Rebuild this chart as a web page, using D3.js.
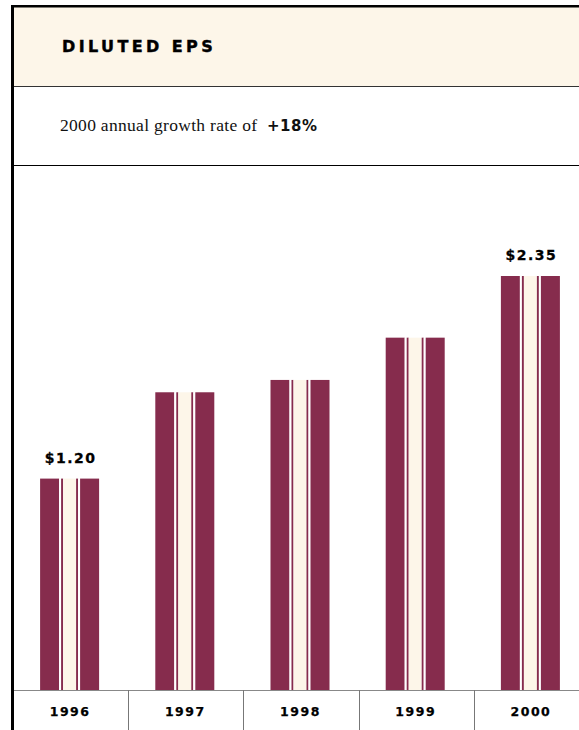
<!DOCTYPE html>
<html>
<head>
<meta charset="utf-8">
<script src="https://cdn.jsdelivr.net/npm/d3@7"></script>
<style>
  body { margin: 0; background: #fff; }
  svg { display: block; }
</style>
</head>
<body>
<div id="chart"></div>
<script>
// DATA ////////////////////////////////////////////////////////////
var years = ["1996", "1997", "1998", "1999", "2000"];
var eps = [1.20, 1.69, 1.76, 2.00, 2.35];
var labelled = ["1996", "2000"];
var growthText = "2000 annual growth rate of";
var growthValue = "+18%";

// PAGE SETUP //////////////////////////////////////////////////////
var width = 579, height = 730;
var frameLeft = 14, frameTop = 7;
var baseY = 690;
var maroon = "#862c4d", cream = "#fdf6e9";

var svg = d3.select("#chart").append("svg")
  .attr("width", width).attr("height", height);

// header band
svg.append("rect").attr("x", frameLeft).attr("y", frameTop)
  .attr("width", width - frameLeft).attr("height", 79).attr("fill", cream);
svg.append("line").attr("x1", frameLeft).attr("x2", width).attr("y1", 86.5).attr("y2", 86.5)
  .attr("stroke", "#333").attr("stroke-width", 1);
svg.append("line").attr("x1", frameLeft).attr("x2", width).attr("y1", 165.5).attr("y2", 165.5)
  .attr("stroke", "#000").attr("stroke-width", 1);

// frame
svg.append("rect").attr("x", 11).attr("y", 5).attr("width", width - 11).attr("height", 2.5).attr("fill", "#000");
svg.append("rect").attr("x", 11).attr("y", 5).attr("width", 3).attr("height", height - 5).attr("fill", "#000");

svg.append("text").attr("x", 62).attr("y", 52)
  .attr("font-family", "'DejaVu Sans', sans-serif").attr("font-weight", "bold")
  .attr("font-size", 16).attr("letter-spacing", 3.4).attr("fill", "#000")
  .attr("stroke", "#000").attr("stroke-width", 0.4)
  .text("DILUTED EPS");

var sub = svg.append("text").attr("x", 60).attr("y", 131)
  .attr("font-family", "'Liberation Serif', serif").attr("font-size", 17.5)
  .attr("letter-spacing", 0.3).attr("fill", "#111");
sub.append("tspan").text(growthText + " ");
sub.append("tspan").attr("dx", 5).attr("font-family", "'DejaVu Sans', sans-serif")
  .attr("font-weight", "bold").attr("font-size", 15).attr("letter-spacing", 0.5).text(growthValue);

// SCALES //////////////////////////////////////////////////////////
var x = d3.scaleBand().domain(years).range([13, 589]);
var y = d3.scaleLinear().domain([0, 2.35]).range([baseY, 276]);
var barW = 59;

// BARS ////////////////////////////////////////////////////////////
var bars = svg.append("g").selectAll("g").data(years)
  .enter().append("g")
  .attr("transform", function(d){ return "translate(" + (x(d) + x.bandwidth() / 2 - barW / 2 - 1) + ",0)"; });

// stripe layout across the bar: [offset, width, colour]
var stripes = [[0, 19, maroon], [19, 2, "#fff"], [21, 2, maroon], [23, 13, cream],
               [36, 2, maroon], [38, 2, "#fff"], [40, 19, maroon]];

bars.each(function(d, i){
  var g = d3.select(this);
  g.selectAll("rect").data(stripes).enter().append("rect")
    .attr("x", function(s){ return s[0]; })
    .attr("width", function(s){ return s[1]; })
    .attr("y", y(eps[i]))
    .attr("height", baseY - y(eps[i]))
    .attr("fill", function(s){ return s[2]; });
  if (labelled.indexOf(d) >= 0) {
    g.append("text").attr("x", barW / 2 + 1).attr("y", y(eps[i]) - 16)
      .attr("text-anchor", "middle")
      .attr("font-family", "'DejaVu Sans', sans-serif").attr("font-weight", "bold")
      .attr("font-size", 14).attr("letter-spacing", 1.5).attr("fill", "#000")
      .attr("stroke", "#000").attr("stroke-width", 0.3)
      .text("$" + eps[i].toFixed(2));
  }
});

// AXIS ////////////////////////////////////////////////////////////
svg.append("line").attr("x1", frameLeft).attr("x2", width).attr("y1", baseY + 0.5).attr("y2", baseY + 0.5)
  .attr("stroke", "#888");

svg.append("g").selectAll("line").data(years.slice(1))
  .enter().append("line")
  .attr("x1", function(d){ return Math.round(x(d)) + 0.5; }).attr("x2", function(d){ return Math.round(x(d)) + 0.5; })
  .attr("y1", baseY).attr("y2", height)
  .attr("stroke", "#777");

svg.append("g").selectAll("text").data(years)
  .enter().append("text")
  .attr("x", function(d){ return x(d) + x.bandwidth() / 2 - 0.5; })
  .attr("y", 716)
  .attr("text-anchor", "middle")
  .attr("font-family", "'DejaVu Sans', sans-serif").attr("font-weight", "bold")
  .attr("font-size", 12.5).attr("letter-spacing", 1.5).attr("fill", "#000")
  .attr("stroke", "#000").attr("stroke-width", 0.25)
  .text(function(d){ return d; });
</script>
</body>
</html>
